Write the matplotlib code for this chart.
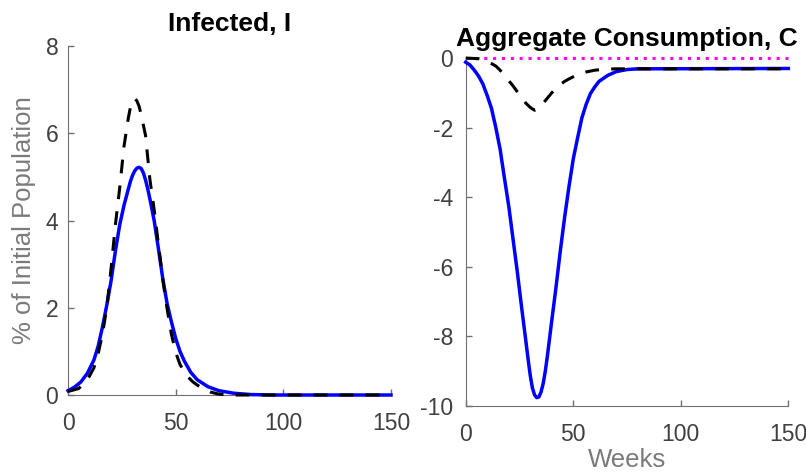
import numpy as np
import matplotlib
matplotlib.use('Agg')
import matplotlib.pyplot as plt

plt.rcParams['font.family'] = ['Liberation Sans', 'DejaVu Sans']
plt.rcParams['axes.unicode_minus'] = False

# INFECTED, I (% of initial population)
wk_inf_blue = [0, 3, 6, 9, 12, 14, 16, 18, 20, 22, 24, 26, 28, 29, 30, 31, 32, 33, 34,
               35, 36, 37, 38, 40, 42, 44, 46, 48, 50, 52, 54, 57, 60, 65, 70, 77, 85,
               95, 150]
inf_blue = [0.10, 0.18, 0.30, 0.50, 0.80, 1.12, 1.56, 2.06, 2.62, 3.30, 3.90, 4.35,
            4.72, 4.90, 5.04, 5.14, 5.20, 5.22, 5.19, 5.09, 4.93, 4.73, 4.50, 4.00,
            3.35, 2.67, 2.10, 1.68, 1.30, 1.00, 0.78, 0.52, 0.35, 0.19, 0.10, 0.04,
            0.01, 0.0, 0.0]

wk_inf_black = [0, 5, 9, 12, 14, 16, 18, 20, 22, 24, 26, 28, 29, 30, 31, 32, 33, 34,
                36, 38, 40, 42, 44, 46, 48, 50, 52, 55, 58, 62, 66, 70, 75, 150]
inf_black = [0.08, 0.15, 0.35, 0.62, 0.95, 1.40, 2.00, 2.90, 3.90, 4.75, 5.70, 6.35,
             6.60, 6.75, 6.80, 6.74, 6.62, 6.42, 5.95, 4.95, 4.25, 3.45, 2.66, 1.98,
             1.40, 0.98, 0.70, 0.45, 0.30, 0.16, 0.07, 0.02, 0.0, 0.0]

# AGGREGATE CONSUMPTION, C
wk_c_blue = [0, 2, 4, 6, 8, 10, 12, 14, 16, 18, 20, 22, 24, 26, 28, 29, 30, 31, 32,
             33, 34, 35, 36, 37, 38, 40, 42, 44, 46, 48, 50, 52, 54, 56, 58, 60, 62,
             66, 70, 75, 80, 150]
c_blue = [-0.12, -0.20, -0.35, -0.52, -0.75, -1.08, -1.45, -2.00, -2.62, -3.45,
          -4.25, -5.20, -6.15, -7.17, -8.15, -8.65, -9.12, -9.48, -9.68, -9.76,
          -9.74, -9.60, -9.36, -9.00, -8.55, -7.55, -6.58, -5.53, -4.57, -3.70,
          -2.90, -2.30, -1.72, -1.33, -1.02, -0.83, -0.67, -0.50, -0.39, -0.33,
          -0.31, -0.30]

wk_c_black = [0, 6, 8, 10, 12, 14, 16, 18, 20, 22, 24, 26, 28, 30, 32, 34, 36, 38,
              40, 42, 44, 46, 48, 50, 53, 56, 60, 65, 70, 150]
c_black = [0.0, -0.02, -0.05, -0.10, -0.16, -0.23, -0.35, -0.50, -0.65, -0.80,
           -0.97, -1.13, -1.30, -1.42, -1.50, -1.45, -1.30, -1.15, -1.00, -0.87,
           -0.76, -0.67, -0.60, -0.54, -0.46, -0.40, -0.35, -0.32, -0.31, -0.31]

wk_zero = [0, 150]
c_zero = [0, 0]

tick_col = '#404040'
spine_col = '#707070'
label_col = '#7a7a7a'

fig = plt.figure(figsize=(8.06, 4.73), dpi=100)
ax1 = fig.add_axes([0.0844, 0.1649, 0.4007, 0.7378])
ax2 = fig.add_axes([0.5778, 0.1416, 0.4003, 0.7357])

# PAINEL ESQUERDO
ax1.plot(wk_inf_blue, inf_blue, color='#0000ff', lw=2.5, zorder=3)
ax1.plot(wk_inf_black, inf_black, color='black', lw=2.2, dashes=(4.5, 4.0), zorder=4)
ax1.set_xlim(0, 150)
ax1.set_ylim(0, 8)
ax1.set_xticks([0, 50, 100, 150])
ax1.set_yticks([0, 2, 4, 6, 8])
ax1.set_title('Infected, I', fontsize=19, fontweight='bold', pad=11)
ax1.set_ylabel('% of Initial Population', fontsize=18.5, color=label_col, labelpad=7)
ax1.tick_params(axis='y', pad=7)

# PAINEL DIREITO
ax2.plot(wk_zero, c_zero, color='#ff00ff', lw=2.2, dashes=(1, 1.9), zorder=2)
ax2.plot(wk_c_blue, c_blue, color='#0000ff', lw=2.5, zorder=3)
ax2.plot(wk_c_black, c_black, color='black', lw=2.2, dashes=(4.5, 4.0), zorder=4)
ax2.set_xlim(0, 150)
ax2.set_ylim(-10, 0)
ax2.set_xticks([0, 50, 100, 150])
ax2.set_yticks([-10, -8, -6, -4, -2, 0])
ax2.set_title('Aggregate Consumption, C', fontsize=19, fontweight='bold', pad=9)
ax2.set_xlabel('Weeks', fontsize=18.5, color=label_col, labelpad=2)
ax2.tick_params(axis='y', pad=9)

for ax in (ax1, ax2):
    ax.spines['top'].set_visible(False)
    ax.spines['right'].set_visible(False)
    ax.spines['left'].set_color(spine_col)
    ax.spines['bottom'].set_color(spine_col)
    ax.tick_params(direction='in', length=4, width=1, color=spine_col,
                   labelcolor=tick_col, labelsize=16.5)
    ax.tick_params(axis='x', pad=12)
    for l in ax.lines:
        l.set_clip_on(False)

fig.savefig('out.png', dpi=100)
